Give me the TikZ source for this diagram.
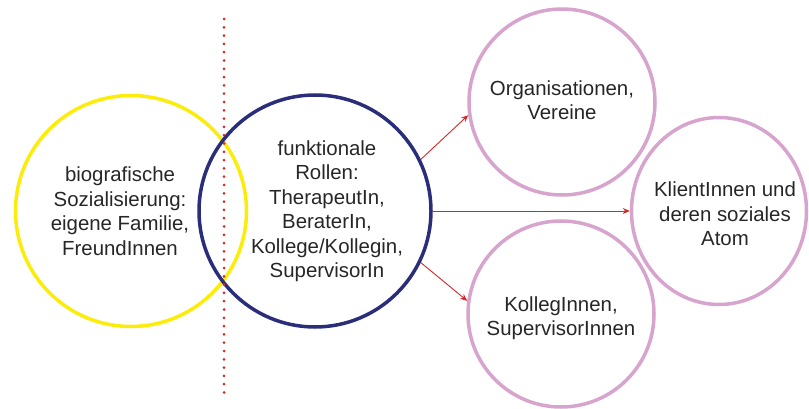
\documentclass[tikz,border=0pt]{standalone}
\usepackage{fontspec}
\setmainfont{Liberation Sans}
\usetikzlibrary{positioning, arrows.meta, shapes.geometric}

\definecolor{gelb}{RGB}{252,236,10}
\definecolor{dunkelblau}{RGB}{42,46,122}
\definecolor{rosa}{RGB}{214,164,204}
\definecolor{rot}{RGB}{214,40,40}

\begin{document}
\begin{tikzpicture}[x=1pt, y=-1pt,
		every node/.style={font=\fontsize{20.4}{24.5}\selectfont, text=black!85},
		ring/.style={circle, line width=3.5pt, inner sep=0pt},
		txt/.style={align=center, inner sep=0pt},
		pfeil/.style={-{Stealth[length=7pt,width=6pt]}, draw=rot, line width=0.9pt},
		punkte/.style={draw=rot, line width=3pt, line cap=round, dash pattern=on 0pt off 8.3pt}]
		\useasboundingbox (0,0) rectangle (809,409);
		
		\node[ring, draw=gelb, minimum size=231pt] (bio) at (131,211) {};
		\node[ring, draw=dunkelblau, minimum size=232pt] (rollen) at (315,211) {};
		\node[ring, draw=rosa, minimum size=186pt] (org) at (562,102) {};
		\node[ring, ellipse, draw=rosa, minimum width=175pt, minimum height=187pt] (klient) at (719,211) {};
		\node[ring, draw=rosa, minimum size=186pt] (koll) at (561,314) {};
		
		\node[txt] (biotext) at ([xshift=-11pt]bio.center) {biografische\\Sozialisierung:\\eigene Familie,\\FreundInnen};
		\node[txt] (rollentext) at ([xshift=12pt]rollen.center) {funktionale\\Rollen:\\TherapeutIn,\\BeraterIn,\\Kollege/Kollegin,\\SupervisorIn};
		\node[txt] (orgtext) at ([yshift=2pt]org.center) {Organisationen,\\Vereine};
		\node[txt] (klienttext) at ([xshift=6pt,yshift=-3pt]klient.center) {KlientInnen und\\deren soziales\\Atom};
		\node[txt] (kolltext) at ([yshift=-4pt]koll.center) {KollegInnen,\\SupervisorInnen};
		
		\coordinate (oben) at (224,19);
		\coordinate (unten) at (224,397);
		\path[punkte] (oben) -- (unten);
		
		\path
		(rollen.26) edge[pfeil] (org.188)
		(rollen.0) edge[pfeil] (klient.180)
		(rollen.-26) edge[pfeil] (koll.172);
	\end{tikzpicture}
\end{document}
